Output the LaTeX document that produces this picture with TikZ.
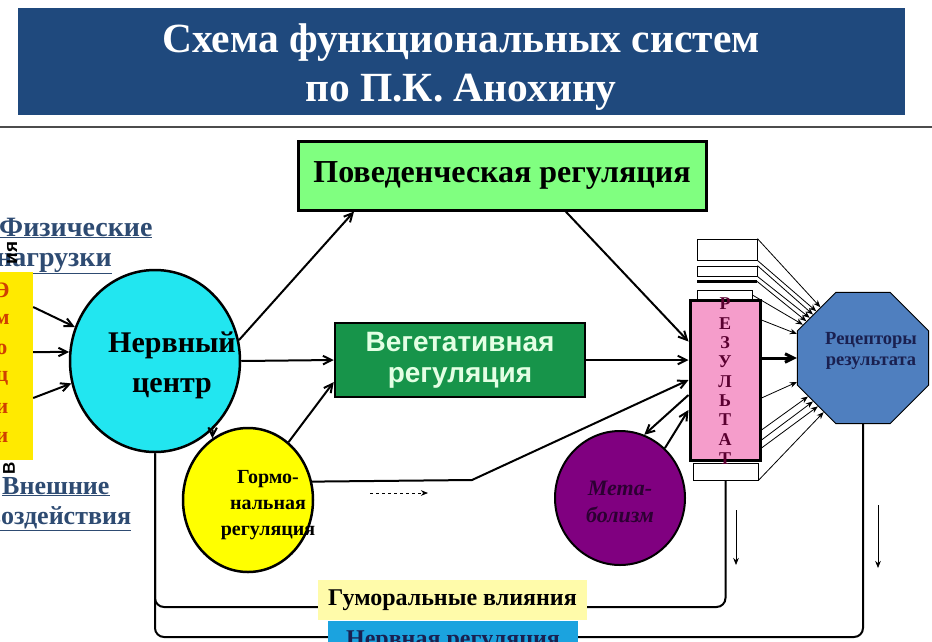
\documentclass[tikz,border=0pt]{standalone}
\usepackage{fontspec}
\setmainfont{Liberation Serif}
\setsansfont{Liberation Sans}
\usepackage{xcolor}
\usetikzlibrary{positioning,arrows.meta,shapes.geometric,calc}
\definecolor{bannerblue}{HTML}{1F497D}
\definecolor{behavgreen}{HTML}{80FF80}
\definecolor{vegetgreen}{HTML}{17944A}
\definecolor{vegettext}{HTML}{E4FFE4}
\definecolor{nervcyan}{HTML}{22E6F0}
\definecolor{hormyellow}{HTML}{FFFF00}
\definecolor{metabpurple}{HTML}{800080}
\definecolor{metabtext}{HTML}{2C0032}
\definecolor{respink}{HTML}{F59DCB}
\definecolor{restext}{HTML}{5A0030}
\definecolor{recblue}{HTML}{4F7FBF}
\definecolor{rectext}{HTML}{1A2050}
\definecolor{humyellow}{HTML}{FFFBAA}
\definecolor{nervblue}{HTML}{1BA3DF}
\definecolor{linkblue}{HTML}{2E4B72}
\definecolor{emoyellow}{HTML}{FFEA00}
\definecolor{emored}{HTML}{D04000}

\begin{document}
\begin{tikzpicture}[x=1pt, y=-1pt, font=\bfseries,
  >={Straight Barb[length=3mm,width=3mm]},
  box/.style={draw, line width=2.5pt, inner sep=0pt},
  ring/.style={ellipse, draw, line width=2.5pt, inner sep=0pt},
  flow/.style={->, line width=2pt},
  fine/.style={-{Stealth[length=2.5mm,width=2mm]}, line width=0.8pt},
  feed/.style={line width=2pt, rounded corners=9pt},
  whitebar/.style={draw, fill=white, line width=0.8pt, inner sep=0pt},
  linktext/.style={text=linkblue, font=\bfseries\fontsize{28}{30}\selectfont, inner sep=0pt}]
\useasboundingbox (0,0) rectangle (932,641);

% title
\node[fill=bannerblue, minimum width=887, minimum height=107] (banner) at (461.5,61.5) {};
\node[text=white, align=center, font=\bfseries\fontsize{41.5}{49}\selectfont] (title) at (461,67) {Схема функциональных систем\\по П.К. Анохину};
\draw[line width=2pt, black!70] (0,127) -- (932,127);

% left inputs
\node[linktext, anchor=base west] (phys1) at (-1,236) {\underline{Физические}};
\node[linktext, anchor=base west] (phys2) at (-4,266) {\underline{нагрузки}};
\node[linktext, anchor=base west, font=\bfseries\fontsize{26}{30}\selectfont] (ext1) at (2,494) {\underline{Внешние}};
\node[linktext, anchor=base west, font=\bfseries\fontsize{26}{30}\selectfont] (ext2) at (-13,524) {\underline{воздействия}};
\node[rotate=90, font=\sffamily\bfseries\fontsize{19}{19}\selectfont, inner sep=0pt] (vtop) at (12,253) {ия};
\node[rotate=90, font=\sffamily\bfseries\fontsize{17}{17}\selectfont, inner sep=0pt] (vbot) at (9,468) {В};
\node[fill=emoyellow, minimum width=33, minimum height=188, inner sep=0pt] (emo) at (16.5,366) {};
\foreach \l [count=\i] in {Э,м,о,ц,и,и}
  \node[text=emored, font=\bfseries\fontsize{22}{22}\selectfont, inner sep=0pt] (emo\i) at (2,{290+29.5*(\i-1)}) {\l};

% main blocks
\node[box, fill=behavgreen, minimum width=408, minimum height=69, line width=3pt,
  font=\bfseries\fontsize{32}{34}\selectfont] (behav) at (502,175.5) {Поведенческая регуляция};
\node[ring, fill=nervcyan, minimum width=170, minimum height=182] (nerv) at (155,361) {};
\node[align=center, font=\bfseries\fontsize{30}{40}\selectfont] (nervtext) at (172,365) {Нервный\\центр};
\node[box, fill=vegetgreen, minimum width=250, minimum height=74, text=vegettext, align=center,
  font=\sffamily\bfseries\fontsize{28}{31}\selectfont] (veget) at (460,360) {Вегетативная\\регуляция};
\node[ring, fill=hormyellow, minimum width=130, minimum height=144] (horm) at (248,500) {};
\node[align=center, font=\bfseries\fontsize{20}{26}\selectfont] (hormtext) at (268,505) {Гормо-\\нальная\\регуляция};
\node[ring, fill=metabpurple, minimum width=130, minimum height=134, line width=2pt] (metab) at (620,498) {};
\node[align=center, text=metabtext, font=\bfseries\itshape\fontsize{22}{27}\selectfont] (metabtext) at (620,502) {Мета-\\болизм};

% result column
\node[whitebar, minimum width=60, minimum height=21] (topA) at (727,249.5) {};
\node[whitebar, minimum width=60, minimum height=10] (topB) at (727,271) {};
\node[fill=black, minimum width=60, minimum height=3, inner sep=0pt] (barC) at (727,281.5) {};
\node[whitebar, minimum width=55, minimum height=10] (topD) at (724.5,295) {};
\node[whitebar, minimum width=65, minimum height=17] (resbot) at (725.5,471.5) {};
\node[box, fill=respink, minimum width=70, minimum height=160, line width=3pt] (resbox) at (725,380) {};
\foreach \l [count=\i] in {Р,Е,З,У,Л,Ь,Т,А,Т}
  \node[text=restext, font=\bfseries\fontsize{18}{18}\selectfont, inner sep=0pt] (res\i) at (725,{304+19.3*(\i-1)}) {\l};
\node[regular polygon, regular polygon sides=8, minimum size=142, inner sep=0pt, draw, line width=1pt,
  fill=recblue] (rec) at (863,358) {};
\node[align=center, text=rectext, font=\bfseries\fontsize{18.5}{21}\selectfont] (rectext) at (871,351) {Рецепторы\\результата};

% connectors
\foreach \dy/\a in {-59/157,-14/174,32/195}
  \draw[flow] ($(emo.east)+(0,\dy)$) -- (nerv.\a);
\draw[flow] (nerv.14) -- ($(behav.south west)!0.14!(behav.south east)$);
\draw[flow] (nerv.east) -- (veget.west);
\draw[flow] ($(behav.south west)!0.655!(behav.south east)$) -- ($(resbox.north west)+(0,43)$);
\draw[flow] (veget.east) -- (veget.east -| resbox.west);
\draw[flow] (nerv.-50) -- (horm.120);
\draw[flow] (horm.55) -- ($(veget.west)+(0,22)$);
\coordinate (hbend) at (472,480);
\draw[flow] (horm.16) -- (hbend) -- (resbox.west);
\coordinate (dashA) at (370,493);
\coordinate (dashB) at (428,493);
\draw[fine, dashed] (dashA) -- (dashB);
\draw[flow] ($(resbox.west)+(0,15)$) -- (metab.69);
\draw[flow] (metab.48) -- ($(resbox.west)+(0,30)$);
\foreach \s/\a in {topA.north east/130,topA.south east/135,topB.north east/139,topB.south east/143,barC.east/147,topD.east/151,resbot.south east/234}
  \draw[fine] (\s) -- (rec.\a);
\foreach \dy/\a in {-60/160,18/200,50/215,60/221,68/227}
  \draw[fine] ($(resbox.east)+(0,\dy)$) -- (rec.\a);
\draw[->, line width=3pt] (resbox.east |- rec.west) -- (rec.west);

% feedback
\coordinate (humline) at (450,607);
\coordinate (nervline) at (450,637);
\draw[feed] (resbot.south) |- (humline) -| (nerv.south);
\draw[feed] (rec.south) |- (nervline) -| (nerv.south);
\coordinate (downA1) at (736,510);
\coordinate (downA2) at (736,565);
\coordinate (downB1) at (878,505);
\coordinate (downB2) at (878,568);
\draw[fine] (downA1) -- (downA2);
\draw[fine] (downB1) -- (downB2);
\node[fill=humyellow, minimum width=269, minimum height=40, font=\bfseries\fontsize{24}{26}\selectfont] (humor) at (452.5,600) {Гуморальные влияния};
\node[fill=nervblue, minimum width=250, minimum height=40, text=rectext, font=\bfseries\fontsize{24}{26}\selectfont] (nervreg) at (453,641) {Нервная регуляция};
\end{tikzpicture}
\end{document}
